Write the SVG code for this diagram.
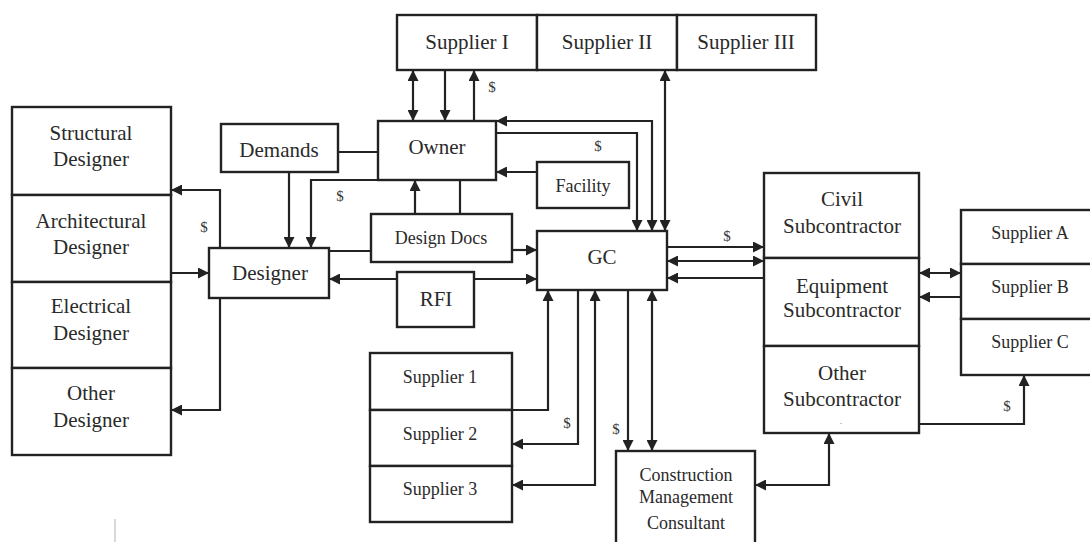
<svg xmlns="http://www.w3.org/2000/svg" width="1090" height="542" viewBox="0 0 1090 542">
<style>
.b{fill:#fff;stroke:#222;stroke-width:2.4}
.t{font-family:"Liberation Serif","Times New Roman",serif;font-size:21px;fill:#2a2a2a;text-anchor:middle}
.s{font-size:18px}
.d{font-family:"Liberation Serif","Times New Roman",serif;font-size:15px;fill:#333;text-anchor:middle}
.c path{fill:none;stroke:#222;stroke-width:2.2}
.e{marker-end:url(#ah)}
.x{marker-start:url(#ah);marker-end:url(#ah)}
</style>
<defs>
<marker id="ah" viewBox="0 0 10 10" refX="10" refY="5" markerWidth="12" markerHeight="11" markerUnits="userSpaceOnUse" orient="auto-start-reverse"><path d="M0,0 L10,5 L0,10 z" fill="#222"/></marker>
</defs>
<rect width="1090" height="542" fill="#fff"/>

<g id="connectors" class="c">
<path class="x" d="M413,70 L413,121"/>
<path class="e" d="M445,70 L445,121"/>
<path class="e" d="M474,121 L474,70"/>
<path class="x" d="M652,231 L652,121 L496,121"/>
<path class="e" d="M496,133 L637,133 L637,231"/>
<path class="x" d="M665,231 L665,70"/>
<path class="e" d="M537,172 L496,172"/>
<path d="M338,152 L378,152"/>
<path class="e" d="M378,180 L311,180 L311,248"/>
<path class="e" d="M289,172 L289,248"/>
<path class="e" d="M415,214 L415,180"/>
<path d="M460,180 L460,214"/>
<path d="M329,251 L371,251"/>
<path class="e" d="M512,250 L537,250"/>
<path class="e" d="M397,279 L329,279"/>
<path class="e" d="M474,279 L537,279"/>
<path class="e" d="M220,248 L220,190 L171,190"/>
<path class="e" d="M171,273 L209,273"/>
<path class="e" d="M220,298 L220,410 L171,410"/>
<path class="e" d="M512,410 L548,410 L548,290"/>
<path class="e" d="M578,290 L578,444 L512,444"/>
<path class="x" d="M512,485 L595,485 L595,290"/>
<path class="e" d="M628,290 L628,451"/>
<path class="x" d="M652,290 L652,451"/>
<path class="x" d="M755,485 L829,485 L829,433"/>
<path class="e" d="M667,247 L764,247"/>
<path class="x" d="M667,261 L764,261"/>
<path class="e" d="M764,278 L667,278"/>
<path class="x" d="M919,273 L961,273"/>
<path class="e" d="M961,297 L919,297"/>
<path class="e" d="M919,424 L1024,424 L1024,375"/>
<path d="M115,519 L115,542" style="stroke:#ccc;stroke-width:1.5"/>
</g>

<g id="connector-labels">
<text class="d" x="492" y="92">$</text>
<text class="d" x="598" y="151">$</text>
<text class="d" x="340" y="201">$</text>
<text class="d" x="204" y="232">$</text>
<text class="d" x="567" y="428">$</text>
<text class="d" x="616" y="434">$</text>
<text class="d" x="727" y="241">$</text>
<text class="d" x="1007" y="411">$</text>
</g>

<g id="supplier-I"><rect class="b" x="397" y="15" width="140" height="55"/><text class="t" x="467" y="49">Supplier I</text></g>
<g id="supplier-II"><rect class="b" x="537" y="15" width="140" height="55"/><text class="t" x="607" y="49">Supplier II</text></g>
<g id="supplier-III"><rect class="b" x="677" y="15" width="139" height="55"/><text class="t" x="746" y="49">Supplier III</text></g>

<g id="owner"><rect class="b" x="378" y="121" width="118" height="59"/><text class="t" x="437" y="154">Owner</text></g>
<g id="facility"><rect class="b" x="537" y="162" width="92" height="46"/><text class="t s" x="583" y="192">Facility</text></g>
<g id="demands"><rect class="b" x="221" y="124" width="117" height="48"/><text class="t" x="279" y="157">Demands</text></g>
<g id="designer"><rect class="b" x="209" y="248" width="120" height="50"/><text class="t" x="270" y="280">Designer</text></g>
<g id="design-docs"><rect class="b" x="371" y="214" width="141" height="48"/><text class="t s" x="441" y="244">Design Docs</text></g>
<g id="rfi"><rect class="b" x="397" y="272" width="77" height="55"/><text class="t" x="436" y="306">RFI</text></g>
<g id="gc"><rect class="b" x="537" y="231" width="130" height="59"/><text class="t" x="602" y="264">GC</text></g>

<g id="structural-designer"><rect class="b" x="12" y="107" width="159" height="88"/><text class="t" x="91" y="140">Structural</text><text class="t" x="91" y="166">Designer</text></g>
<g id="architectural-designer"><rect class="b" x="12" y="195" width="159" height="87"/><text class="t" x="91" y="228">Architectural</text><text class="t" x="91" y="254">Designer</text></g>
<g id="electrical-designer"><rect class="b" x="12" y="282" width="159" height="86"/><text class="t" x="91" y="313">Electrical</text><text class="t" x="91" y="340">Designer</text></g>
<g id="other-designer"><rect class="b" x="12" y="368" width="159" height="87"/><text class="t" x="91" y="400">Other</text><text class="t" x="91" y="427">Designer</text></g>

<g id="supplier-1"><rect class="b" x="370" y="353" width="142" height="57"/><text class="t s" x="440" y="383">Supplier 1</text></g>
<g id="supplier-2"><rect class="b" x="370" y="410" width="142" height="56"/><text class="t s" x="440" y="440">Supplier 2</text></g>
<g id="supplier-3"><rect class="b" x="370" y="466" width="142" height="56"/><text class="t s" x="440" y="495">Supplier 3</text></g>

<g id="cmc"><rect class="b" x="616" y="451" width="139" height="100"/><text class="t s" x="686" y="481">Construction</text><text class="t s" x="686" y="503">Management</text><text class="t s" x="686" y="529">Consultant</text></g>

<g id="civil-subcontractor"><rect class="b" x="764" y="173" width="155" height="85"/><text class="t" x="842" y="206">Civil</text><text class="t" x="842" y="233">Subcontractor</text></g>
<g id="equipment-subcontractor"><rect class="b" x="764" y="258" width="155" height="88"/><text class="t" x="842" y="293">Equipment</text><text class="t" x="842" y="317">Subcontractor</text></g>
<g id="other-subcontractor"><rect class="b" x="764" y="346" width="155" height="87"/><text class="t" x="842" y="380">Other</text><text class="t" x="842" y="406">Subcontractor</text><text class="d" x="841" y="424" style="font-size:10px;fill:#999">.</text></g>

<g id="supplier-A"><rect class="b" x="961" y="210" width="132" height="54"/><text class="t s" x="1030" y="239">Supplier A</text></g>
<g id="supplier-B"><rect class="b" x="961" y="264" width="132" height="55"/><text class="t s" x="1030" y="293">Supplier B</text></g>
<g id="supplier-C"><rect class="b" x="961" y="319" width="132" height="56"/><text class="t s" x="1030" y="348">Supplier C</text></g>
</svg>
